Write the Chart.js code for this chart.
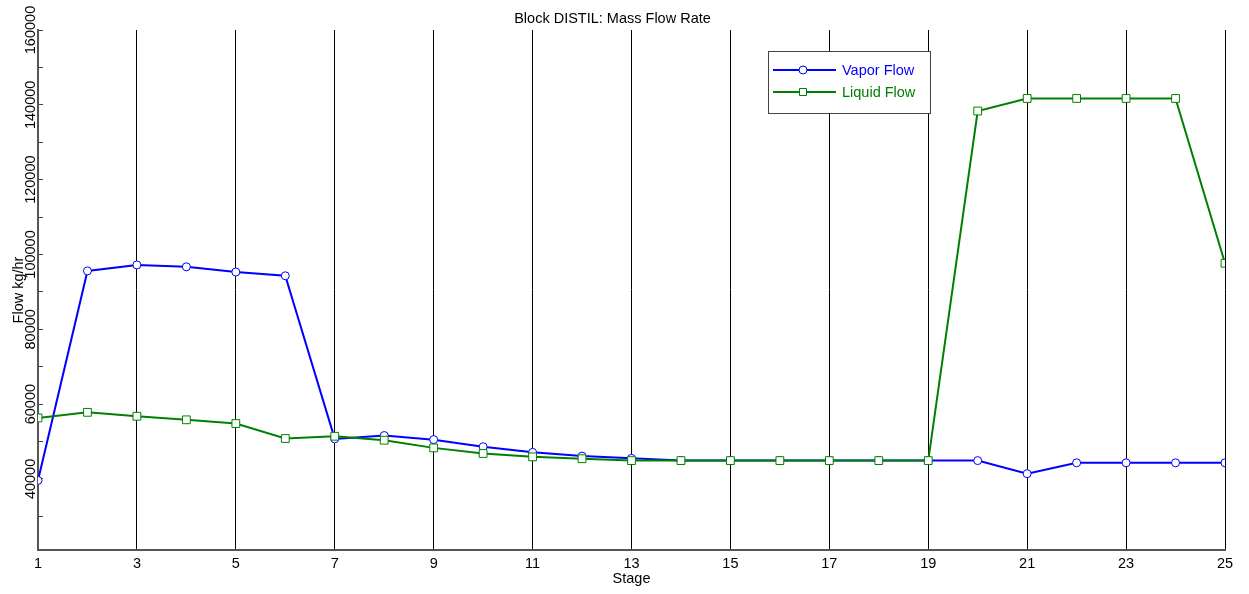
<!DOCTYPE html>
<html>
<head>
<meta charset="utf-8">
<script src="https://cdn.jsdelivr.net/npm/chart.js@4"></script>
<style>
  html, body { margin: 0; padding: 0; background: #fff; }
  #wrap { width: 1249px; height: 594px; }
</style>
</head>
<body>
<div id="wrap"><canvas id="flowChart"></canvas></div>
<script>
const stages = [1, 2, 3, 4, 5, 6, 7, 8, 9, 10, 11, 12, 13, 14, 15, 16, 17, 18, 19, 20, 21, 22, 23, 24, 25];
const vaporFlow = [39600, 95600, 97200, 96700, 95300, 94300, 50700, 51600, 50500, 48600, 47100, 46100, 45500, 44900, 44900, 44900, 44900, 44900, 44900, 44900, 41400, 44300, 44300, 44300, 44300];
const liquidFlow = [56300, 57800, 56750, 55800, 54800, 50800, 51400, 50350, 48300, 46800, 45900, 45400, 44900, 44900, 44900, 44900, 44900, 44900, 44900, 138350, 141700, 141700, 141700, 141700, 97650];
const yTickValues = [30000, 40000, 50000, 60000, 70000, 80000, 90000, 100000, 110000, 120000, 130000, 140000, 150000, 160000];
const yLabelValues = [40000, 60000, 80000, 100000, 120000, 140000, 160000];
const seriesNames = ["Vapor Flow", "Liquid Flow"];

const FONT = "'Liberation Sans', Arial, sans-serif";
const BLUE = "#0000ff";
const GREEN = "#008000";

// legend box drawn inside the plot, like the original
const boxLegend = {
  id: "boxLegend",
  afterDatasetsDraw(chart) {
    const ctx = chart.ctx;
    const x = 768, y = 51, w = 162, h = 62;
    ctx.save();
    ctx.fillStyle = "#fff";
    ctx.fillRect(x, y, w, h);
    ctx.strokeStyle = "#444";
    ctx.lineWidth = 1;
    ctx.strokeRect(x + 0.5, y + 0.5, w, h);
    const rows = [
      { name: seriesNames[0], color: BLUE, y: 70, shape: "circle" },
      { name: seriesNames[1], color: GREEN, y: 92, shape: "square" },
    ];
    ctx.font = "14.5px " + FONT;
    ctx.textBaseline = "middle";
    rows.forEach((r) => {
      ctx.strokeStyle = r.color;
      ctx.lineWidth = 2;
      ctx.beginPath();
      ctx.moveTo(773, r.y);
      ctx.lineTo(836, r.y);
      ctx.stroke();
      ctx.lineWidth = 1;
      ctx.fillStyle = "#fff";
      ctx.beginPath();
      if (r.shape === "circle") {
        ctx.arc(803, r.y, 4, 0, Math.PI * 2);
      } else {
        ctx.rect(799.5, r.y - 3.5, 7, 7);
      }
      ctx.fill();
      ctx.stroke();
      ctx.fillStyle = r.color;
      ctx.fillText(r.name, 842, r.y + 1);
    });
    ctx.restore();
  },
};

const ctx = document.getElementById("flowChart").getContext("2d");

new Chart(ctx, {
  type: "line",
  data: {
    datasets: [
      {
        label: seriesNames[0],
        data: stages.map((s, i) => ({ x: s, y: vaporFlow[i] })),
        borderColor: BLUE,
        borderWidth: 2,
        pointStyle: "circle",
        pointRadius: 4,
        pointBorderWidth: 1,
        pointBackgroundColor: "#fff",
        pointBorderColor: BLUE,
        tension: 0,
        order: 1,
      },
      {
        label: seriesNames[1],
        data: stages.map((s, i) => ({ x: s, y: liquidFlow[i] })),
        borderColor: GREEN,
        borderWidth: 2,
        pointStyle: "rect",
        pointRadius: 5.5,
        pointBorderWidth: 1,
        pointBackgroundColor: "#fff",
        pointBorderColor: GREEN,
        tension: 0,
        order: 0,
      },
    ],
  },
  options: {
    responsive: true,
    maintainAspectRatio: false,
    animation: false,
    layout: { padding: { left: 0, right: 24, top: 0, bottom: 0 } },
    plugins: {
      legend: { display: false },
      tooltip: { enabled: false },
      title: {
        display: true,
        text: "Block DISTIL: Mass Flow Rate",
        color: "#000",
        font: { family: FONT, size: 14.5, weight: "normal" },
        padding: { top: 10, bottom: 2.6 },
      },
    },
    scales: {
      x: {
        type: "linear",
        min: 1,
        max: 25,
        ticks: {
          stepSize: 2,
          color: "#000",
          font: { family: FONT, size: 14.5 },
          padding: 10,
          maxRotation: 0,
        },
        grid: { color: "#000", lineWidth: 1, tickLength: -5 },
        border: { color: "#555", width: 2 },
        title: {
          display: true,
          text: "Stage",
          color: "#000",
          font: { family: FONT, size: 14.5 },
          padding: { top: 0, bottom: 6 },
        },
        afterFit(scale) {
          scale.height = 44;
        },
      },
      y: {
        type: "linear",
        min: 21000,
        max: 160000,
        afterBuildTicks(scale) {
          scale.ticks = yTickValues.map((v) => ({ value: v }));
        },
        ticks: {
          autoSkip: false,
          color: "#000",
          font: { family: FONT, size: 14.5 },
          minRotation: 90,
          maxRotation: 90,
          crossAlign: "center",
          padding: -12,
          callback: (v) => (yLabelValues.includes(v) ? String(v) : ""),
        },
        grid: { drawOnChartArea: false, color: "#444", tickLength: -5 },
        border: { color: "#555", width: 2 },
        title: {
          display: true,
          text: "Flow kg/hr",
          color: "#000",
          font: { family: FONT, size: 14.5 },
          padding: { top: 10, bottom: 0 },
        },
        afterFit(scale) {
          scale.width = 38;
        },
      },
    },
  },
  plugins: [boxLegend],
});
</script>
</body>
</html>
